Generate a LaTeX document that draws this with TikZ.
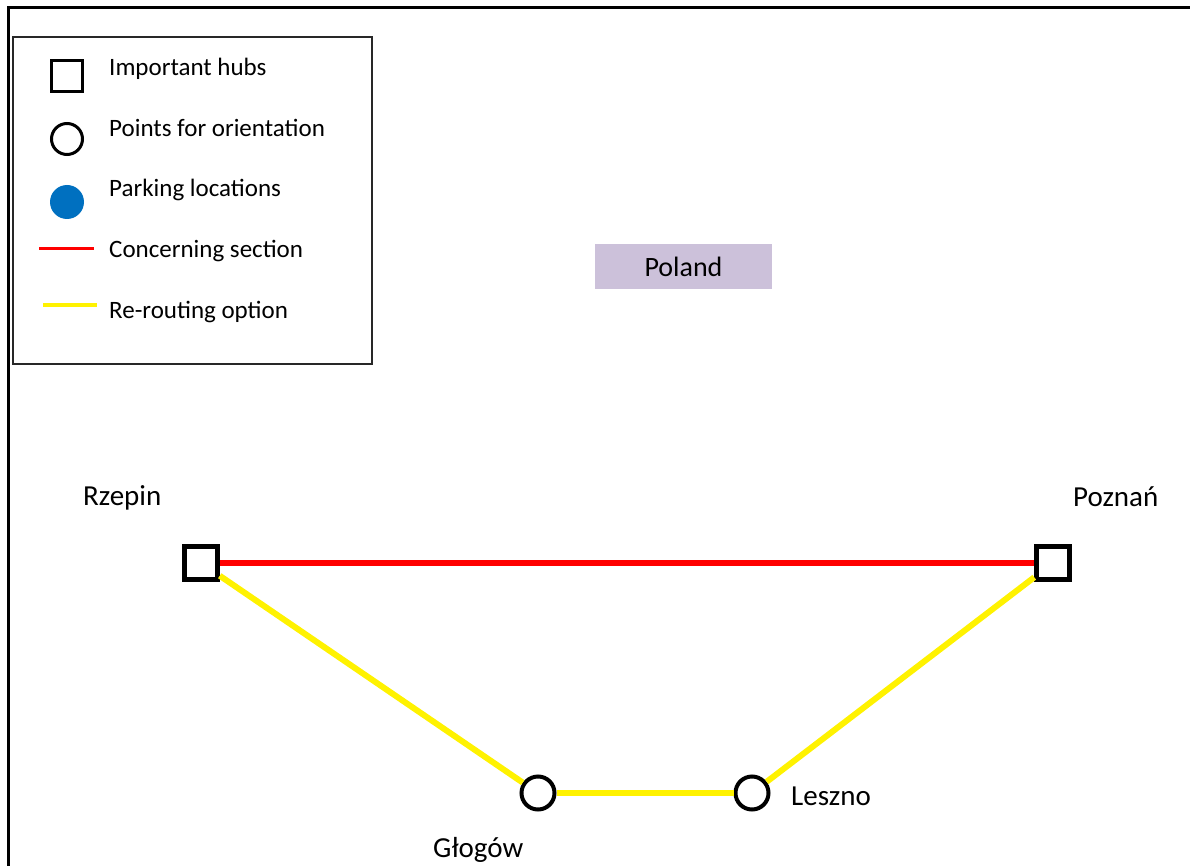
\documentclass[tikz,border=0pt]{standalone}
\usepackage{fontspec}
\setmainfont{Carlito}
\definecolor{parkblue}{RGB}{0,112,192}
\definecolor{polandbox}{RGB}{204,193,218}
\definecolor{legendline}{RGB}{40,40,40}
\tikzset{
  hub/.style={rectangle, draw=black, fill=white, line width=4.5pt, minimum size=33pt, inner sep=0pt},
  town/.style={circle, draw=black, fill=white, line width=4pt, minimum size=33pt, inner sep=0pt},
  keyhub/.style={rectangle, draw=black, line width=3pt, minimum size=31pt, inner sep=0pt},
  keytown/.style={circle, draw=black, line width=3pt, minimum size=31pt, inner sep=0pt},
  keypark/.style={circle, fill=parkblue, minimum size=34pt, inner sep=0pt},
  keytext/.style={anchor=base west, inner sep=0pt, font=\fontsize{25}{29}\selectfont},
  placetext/.style={anchor=base west, inner sep=0pt, font=\fontsize{29}{34}\selectfont},
  concerning/.style={draw=red, line width=6pt},
  rerouting/.style={draw=yellow, line width=6pt},
}
\begin{document}
\begin{tikzpicture}[x=1pt,y=1pt,yscale=-1,xscale=1]
\useasboundingbox (0,0) rectangle (1190,866);

% Frame
\draw[line width=3pt] (8.5,866) -- (8.5,7.5) -- (1190,7.5);

% Legend
\node[draw=legendline, line width=1.2pt, minimum width=359pt, minimum height=327pt, inner sep=0pt] (legend) at (192.5,200.5) {};
\node[keyhub] (keyhub) at (67,76) {};
\node[keytown] (keytown) at (67,139) {};
\node[keypark] (keypark) at (67,202) {};
\coordinate (redA) at (39,249);
\coordinate (redB) at (94,249);
\coordinate (yelA) at (43,305);
\coordinate (yelB) at (97,305);
\draw[draw=red, line width=3pt] (redA) -- (redB);
\draw[draw=yellow, line width=3pt] (yelA) -- (yelB);
\node[keytext] (texthub) at (109,76) {Important hubs};
\node[keytext] (texttown) at (109,137) {Points for orientation};
\node[keytext] (textpark) at (109,197) {Parking locations};
\node[keytext] (textred) at (109,258) {Concerning section};
\node[keytext] (textyel) at (109,318) {Re-routing option};

% Country label
\node[fill=polandbox, minimum width=177pt, minimum height=45pt, inner sep=0pt, font=\fontsize{28}{32}\selectfont] (poland) at (683.5,266.5) {Poland};

% Network
\node[hub] (rzepin) at (201,563) {};
\node[hub] (poznan) at (1053,563) {};
\node[town] (glogow) at (538,793) {};
\node[town] (leszno) at (752,793) {};

\draw[concerning] (rzepin) -- (poznan);
\draw[rerouting] (rzepin) -- (glogow);
\draw[rerouting] (glogow) -- (leszno);
\draw[rerouting] (leszno) -- (poznan);

% Text Node
\node[placetext] (rzepintext) at (83,505) {Rzepin};
\node[placetext] (poznantext) at (1073,506) {Poznań};
\node[placetext] (lesznotext) at (791,805) {Leszno};
\node[placetext] (glogowtext) at (433,857) {Głogów};

\end{tikzpicture}
\end{document}
